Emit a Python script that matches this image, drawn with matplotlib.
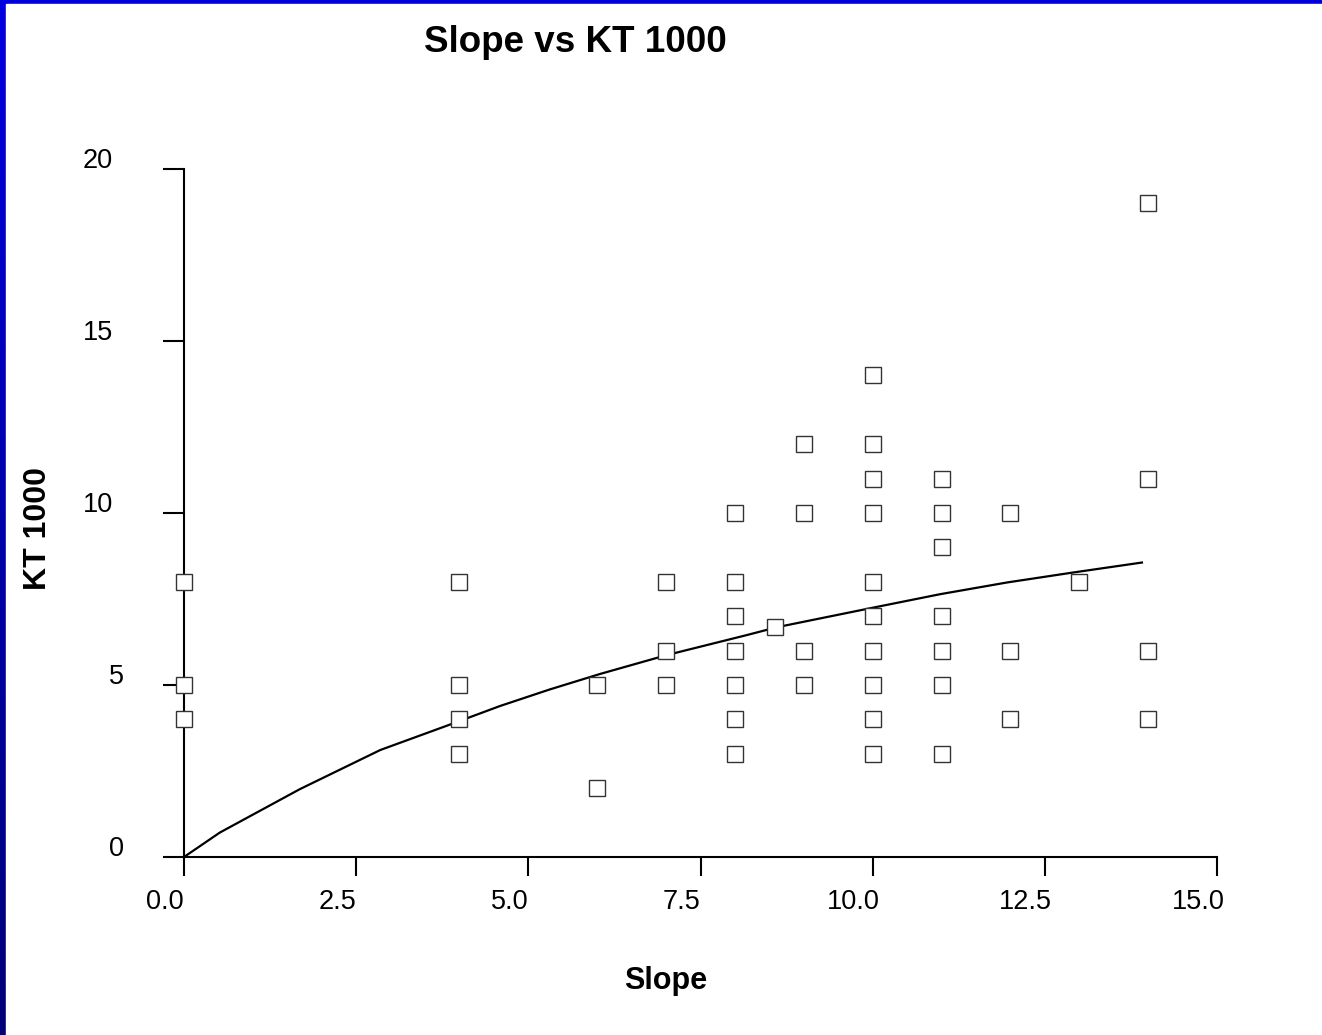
import numpy as np
import matplotlib
matplotlib.use("Agg")
import matplotlib.pyplot as plt
import matplotlib.transforms as mtransforms
from matplotlib.colors import LinearSegmentedColormap
from matplotlib.patches import Rectangle

plt.rcParams['font.family'] = ['Liberation Sans', 'DejaVu Sans']

# observed points (slope, KT 1000)
slope_x = [0, 0, 0,
           4, 4, 4, 4,
           6, 6,
           7, 7, 7,
           8, 8, 8, 8, 8, 8, 8,
           8.58,
           9, 9, 9, 9,
           10, 10, 10, 10, 10, 10, 10, 10, 10, 10,
           11, 11, 11, 11, 11, 11, 11,
           12, 12, 12,
           13,
           14, 14, 14, 14]
kt_y = [8, 5, 4,
        8, 5, 4, 3,
        5, 2,
        8, 6, 5,
        10, 8, 7, 6, 5, 4, 3,
        6.7,
        12, 10, 6, 5,
        14, 12, 11, 10, 8, 7, 6, 5, 4, 3,
        11, 10, 9, 7, 6, 5, 3,
        10, 6, 4,
        8,
        19, 11, 6, 4]

# fitted curve
fit_x = [0, 0.52, 1.68, 2.85, 3.89, 4.59, 5.31, 6.04, 7.01, 8.17, 8.61,
         10.01, 10.98, 11.95, 12.91, 13.91]
fit_y = [0, 0.71, 1.97, 3.11, 3.87, 4.39, 4.87, 5.32, 5.87, 6.45, 6.68,
         7.25, 7.64, 7.98, 8.27, 8.56]

x_ticks = [0, 2.5, 5, 7.5, 10, 12.5, 15]
x_labels = ["0.0", "2.5", "5.0", "7.5", "10.0", "12.5", "15.0"]
y_ticks = [0, 5, 10, 15, 20]
y_labels = ["0", "5", "10", "15", "20"]

W, H = 1322, 1035
fig = plt.figure(figsize=(W / 100, H / 100), dpi=100)

# blue gradient frame on left and top
bg = fig.add_axes([0, 0, 1, 1], zorder=-10)
cmap = LinearSegmentedColormap.from_list("frame", ["#0000E0", "#000078"])
grad = np.linspace(0, 1, 256).reshape(-1, 1)
bg.imshow(grad, cmap=cmap, aspect='auto', extent=[0, W, 0, H])
bg.add_patch(Rectangle((6, 0), W - 6, H - 4, color='white'))
bg.set_xlim(0, W)
bg.set_ylim(0, H)
bg.axis('off')

ax = fig.add_axes([184 / W, 1 - 857 / H, 1033 / W, 688 / H])
ax.set_facecolor('none')

ax.plot(fit_x, fit_y, color='black', lw=1.6, zorder=2)
ax.plot(slope_x, kt_y, ls='none', marker='s', markersize=11.5,
        markerfacecolor='white', markeredgecolor='#333333',
        markeredgewidth=1.0, zorder=3, clip_on=False)

ax.set_xlim(0, 15)
ax.set_ylim(0, 20)
for s in ['top', 'right']:
    ax.spines[s].set_visible(False)
for s in ['left', 'bottom']:
    ax.spines[s].set_linewidth(1.5)

ax.set_xticks(x_ticks)
ax.set_xticklabels(x_labels)
ax.set_yticks(y_ticks)
ax.set_yticklabels(y_labels)
ax.tick_params(axis='x', direction='out', length=14, width=1.5, pad=9,
               labelsize=19.5)
ax.tick_params(axis='y', direction='out', length=15, width=1.5, pad=36,
               labelsize=19.5)

# shift tick labels like the original
for lab in ax.get_xticklabels():
    off = mtransforms.ScaledTranslation(-0.19, 0, fig.dpi_scale_trans)
    lab.set_transform(lab.get_transform() + off)
for lab, txt in zip(ax.get_yticklabels(), y_labels):
    dx = 0.11 if len(txt) == 1 else 0
    off = mtransforms.ScaledTranslation(dx, 0.11, fig.dpi_scale_trans)
    lab.set_transform(lab.get_transform() + off)

ax.set_xlabel("Slope", fontsize=22, fontweight='bold', va='center')
ax.xaxis.set_label_coords((666 - 184) / 1033, (857 - 981) / 688)
ax.set_ylabel("KT 1000", fontsize=23, fontweight='bold', va='center',
              ha='center')
ax.yaxis.set_label_coords((38 - 184) / 1033, (857 - 528) / 688)

fig.text(575 / W, 1 - 43 / H, "Slope vs KT 1000", fontsize=26.5,
         fontweight='bold', ha='center', va='center')

fig.savefig("out.png", dpi=100)
